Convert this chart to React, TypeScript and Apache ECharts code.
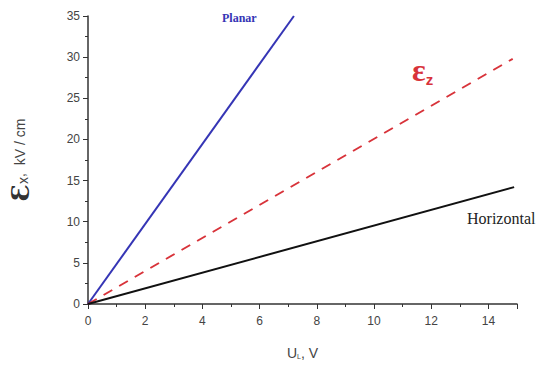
import React, { useEffect, useRef } from "react";
import * as echarts from "echarts";

const planar: [number, number][] = [[0, 0], [7.2, 35]];
const ez: [number, number][] = [[0, 0], [14.85, 29.8]];
const horizontal: [number, number][] = [[0, 0], [14.9, 14.2]];
const xTicks = [0, 2, 4, 6, 8, 10, 12, 14];
const yTicks = [0, 5, 10, 15, 20, 25, 30, 35];

export default function App() {
  const ref = useRef<HTMLDivElement>(null);
  useEffect(() => {
    const chart = echarts.init(ref.current!, null, { renderer: "svg" });
    const axisColor = "#333";
    chart.setOption({
      animation: false,
      backgroundColor: "#fff",
      grid: { left: 88, right: 33, top: 16, bottom: 65 },
      xAxis: {
        type: "value",
        min: 0,
        max: 15,
        interval: 2,
        axisLine: { lineStyle: { color: axisColor, width: 1.5 } },
        axisTick: { show: true, length: 5, lineStyle: { color: axisColor } },
        minorTick: { show: true, splitNumber: 2, length: 3, lineStyle: { color: axisColor } },
        splitLine: { show: false },
        axisLabel: {
          color: "#444",
          fontFamily: "Liberation Sans, Arial",
          fontSize: 12,
          margin: 11,
          formatter: (v: number) => (xTicks.includes(v) ? String(v) : ""),
        },
        name: "{u|U}{s|L}{u|, V}",
        nameLocation: "middle",
        nameGap: 42,
        nameTextStyle: {
          rich: {
            u: { fontSize: 14, color: "#444", fontFamily: "Liberation Sans, Arial" },
            s: { fontSize: 7, color: "#444", verticalAlign: "bottom", padding: [7, 0, 0, 0], fontFamily: "Liberation Sans, Arial" },
          },
        },
      },
      yAxis: {
        type: "value",
        min: 0,
        max: 35,
        interval: 5,
        axisLine: { show: true, lineStyle: { color: axisColor, width: 1.5 } },
        axisTick: { show: true, length: 5, lineStyle: { color: axisColor } },
        minorTick: { show: true, splitNumber: 2, length: 3, lineStyle: { color: axisColor } },
        splitLine: { show: false },
        axisLabel: {
          color: "#444",
          fontFamily: "Liberation Sans, Arial",
          fontSize: 12,
          margin: 8,
          formatter: (v: number) => (yTicks.includes(v) ? String(v) : ""),
        },
        name: "{e|Ɛ}{s|x}{t|,  kV / cm}",
        nameLocation: "middle",
        nameGap: 56,
        nameRotate: 90,
        nameTextStyle: {
          rich: {
            e: { fontSize: 24, color: "#333", fontFamily: "DejaVu Serif", fontWeight: "bold" },
            s: { fontSize: 14, color: "#444", fontFamily: "Liberation Sans, Arial", padding: [6, 0, 0, 0] },
            t: { fontSize: 14, color: "#444", fontFamily: "Liberation Sans, Arial" },
          },
        },
      },
      series: [
        {
          type: "line",
          data: planar,
          symbol: "none",
          lineStyle: { color: "#3535b5", width: 2 },
        },
        {
          type: "line",
          data: ez,
          symbol: "none",
          lineStyle: { color: "#d8333a", width: 2, type: [10, 8] },
        },
        {
          type: "line",
          data: horizontal,
          symbol: "none",
          lineStyle: { color: "#111", width: 2 },
        },
      ],
      graphic: [
        {
          type: "text",
          left: 222,
          top: 12,
          style: {
            text: "Planar",
            fill: "#3535b5",
            font: "bold 12px 'Liberation Serif', 'Times New Roman', serif",
          },
        },
        {
          type: "text",
          left: 412,
          top: 54,
          style: {
            text: "{e|ε}{z|z}",
            rich: {
              e: { fill: "#d8333a", font: "bold 32px 'Liberation Serif', serif" },
              z: { fill: "#d8333a", font: "bold 15px 'Liberation Sans', sans-serif", padding: [18, 0, 0, 0] },
            },
          },
        },
        {
          type: "text",
          left: 467,
          top: 210,
          style: {
            text: "Horizontal",
            fill: "#222",
            font: "16px 'Liberation Serif', 'Times New Roman', serif",
          },
        },
      ],
    });
    return () => chart.dispose();
  }, []);
  return <div ref={ref} style={{ width: 550, height: 369, margin: -8 }} />;
}
